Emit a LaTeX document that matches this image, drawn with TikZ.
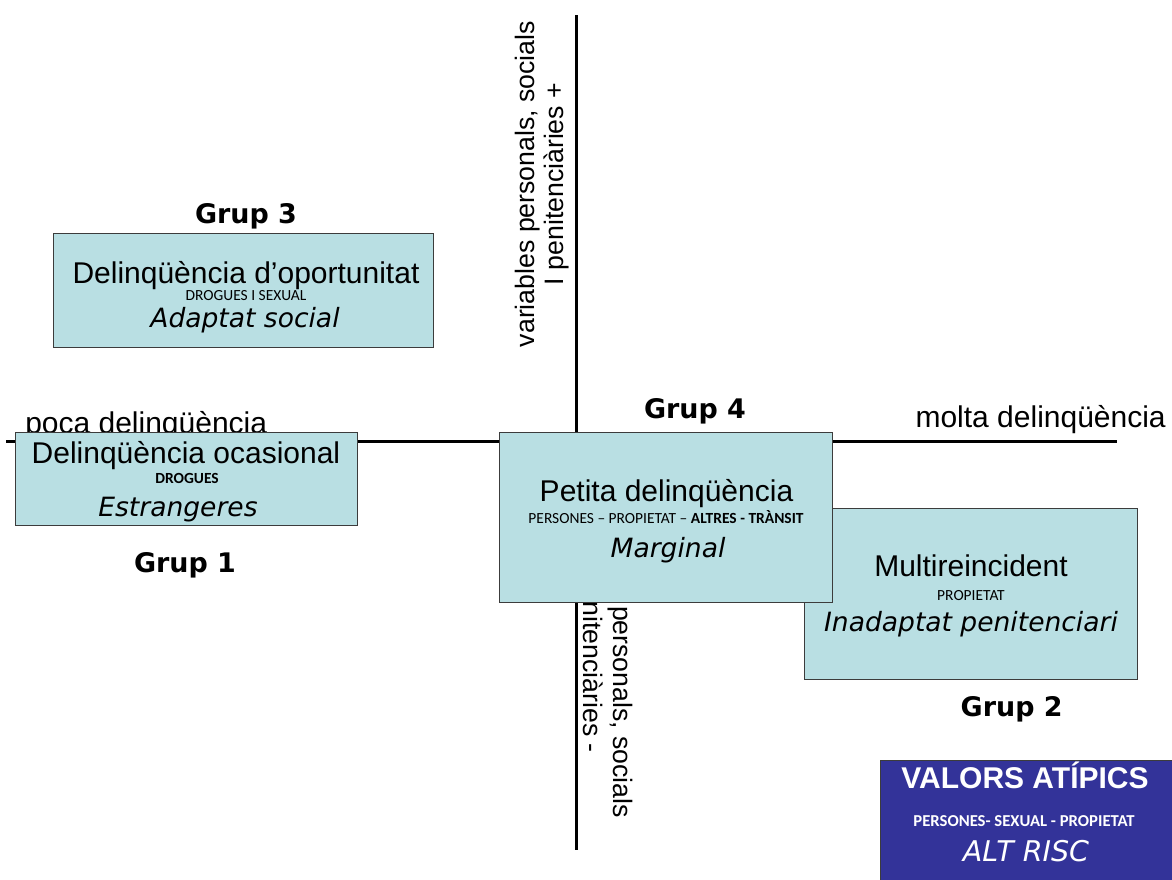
\documentclass[tikz,border=0pt]{standalone}
\usepackage{fontspec}
\setmainfont{Liberation Sans}
\newfontfamily\calib{Carlito}
\newfontfamily\dvs[ItalicFont={DejaVu Sans Oblique},BoldFont={DejaVu Sans Bold}]{DejaVu Sans}
\definecolor{boxfill}{RGB}{185,223,227}
\definecolor{boxline}{RGB}{60,60,60}
\definecolor{atipfill}{RGB}{51,51,153}
\tikzset{
  axisline/.style={line width=2.25pt, black},
  box/.style={draw=boxline, line width=0.8pt, fill=boxfill, rectangle, inner sep=0pt, anchor=north west},
  atipbox/.style={draw=boxline, line width=0.8pt, fill=atipfill, rectangle, inner sep=0pt, anchor=north west},
  txt/.style={inner sep=0pt, anchor=base},
  big/.style={font=\fontsize{22.5pt}{27pt}\selectfont},
  vert/.style={font=\fontsize{20pt}{24pt}\selectfont, inner sep=0pt, anchor=base},
  smalltxt/.style={font=\calib\fontsize{11.6pt}{14pt}\selectfont},
  ital/.style={font=\dvs\itshape\fontsize{19.9pt}{24pt}\selectfont},
  grup/.style={font=\dvs\bfseries\fontsize{20.2pt}{24pt}\selectfont},
}
\begin{document}
\begin{tikzpicture}[x=0.75pt,y=-0.75pt]
\useasboundingbox (0,0) rectangle (1172,879);
% axes
\coordinate (hl) at (6,441.5);
\coordinate (hr) at (1117,441.5);
\coordinate (vt) at (576,15);
\coordinate (vb) at (576,850);
\draw[axisline] (hl) -- (hr);
\draw[axisline] (vt) -- (vb);
% axis labels
\node[txt, big, anchor=base west] (poca) at (25,433) {poca delinqüència};
\node[txt, big, anchor=base east] (molta) at (1166,427) {molta delinqüència};
\node[vert, rotate=90] (vup1) at (534,184) {variables personals, socials};
\node[vert, rotate=90] (vup2) at (563,184) {I penitenciàries +};
\node[vert, rotate=-90] (vdn1) at (613,655) {variables personals, socials};
\node[vert, rotate=-90] (vdn2) at (583,655) {I penitenciàries -};
% Grup 3
\node[box, minimum width=285pt, minimum height=85.5pt] (g3box) at (53,233) {};
\node[txt, big] (g3a) at (246,283) {Delinqüència d’oportunitat};
\node[txt, smalltxt] (g3b) at (246,300) {DROGUES I SEXUAL};
\node[txt, ital] (g3c) at (245,327) {Adaptat social};
\node[txt, grup] (g3l) at (246,223) {Grup 3};
% Grup 1
\node[box, minimum width=256.5pt, minimum height=69.75pt] (g1box) at (15,432) {};
\node[txt, big] (g1a) at (186,463.3) {Delinqüència ocasional};
\node[txt, font=\calib\bfseries\fontsize{11.6pt}{14pt}\selectfont] (g1b) at (187,483.5) {DROGUES};
\node[txt, ital] (g1c) at (178,516.7) {Estrangeres};
\node[txt, grup] (g1l) at (185,572.7) {Grup 1};
% Grup 2
\node[box, minimum width=249.75pt, minimum height=128.25pt] (g2box) at (804,508) {};
\node[txt, big] (g2a) at (971,576) {Multireincident};
\node[txt, smalltxt] (g2b) at (971,600) {PROPIETAT};
\node[txt, ital] (g2c) at (971,631.7) {Inadaptat penitenciari};
\node[txt, grup] (g2l) at (1011.7,716.7) {Grup 2};
% Grup 4
\node[box, minimum width=249.75pt, minimum height=127.5pt] (g4box) at (499,432) {};
\node[txt, big] (g4a) at (666.5,501) {Petita delinqüència};
\node[txt, smalltxt] (g4b) at (666,523.3) {PERSONES – PROPIETAT – \textbf{ALTRES - TRÀNSIT}};
\node[txt, ital] (g4c) at (668,557.3) {Marginal};
\node[txt, grup] (g4l) at (695,418.3) {Grup 4};
% Valors atipics
\node[atipbox, minimum width=225pt, minimum height=97.5pt] (atbox) at (880,760) {};
\node[txt, white, font=\bfseries\fontsize{22.5pt}{27pt}\selectfont] (ata) at (1025,788.3) {VALORS ATÍPICS};
\node[txt, white, font=\calib\bfseries\fontsize{12.5pt}{15pt}\selectfont] (atb) at (1024,826.7) {PERSONES- SEXUAL - PROPIETAT};
\node[txt, white, font=\dvs\itshape\fontsize{21.4pt}{26pt}\selectfont] (atc) at (1026,861.7) {ALT RISC};
\end{tikzpicture}
\end{document}
